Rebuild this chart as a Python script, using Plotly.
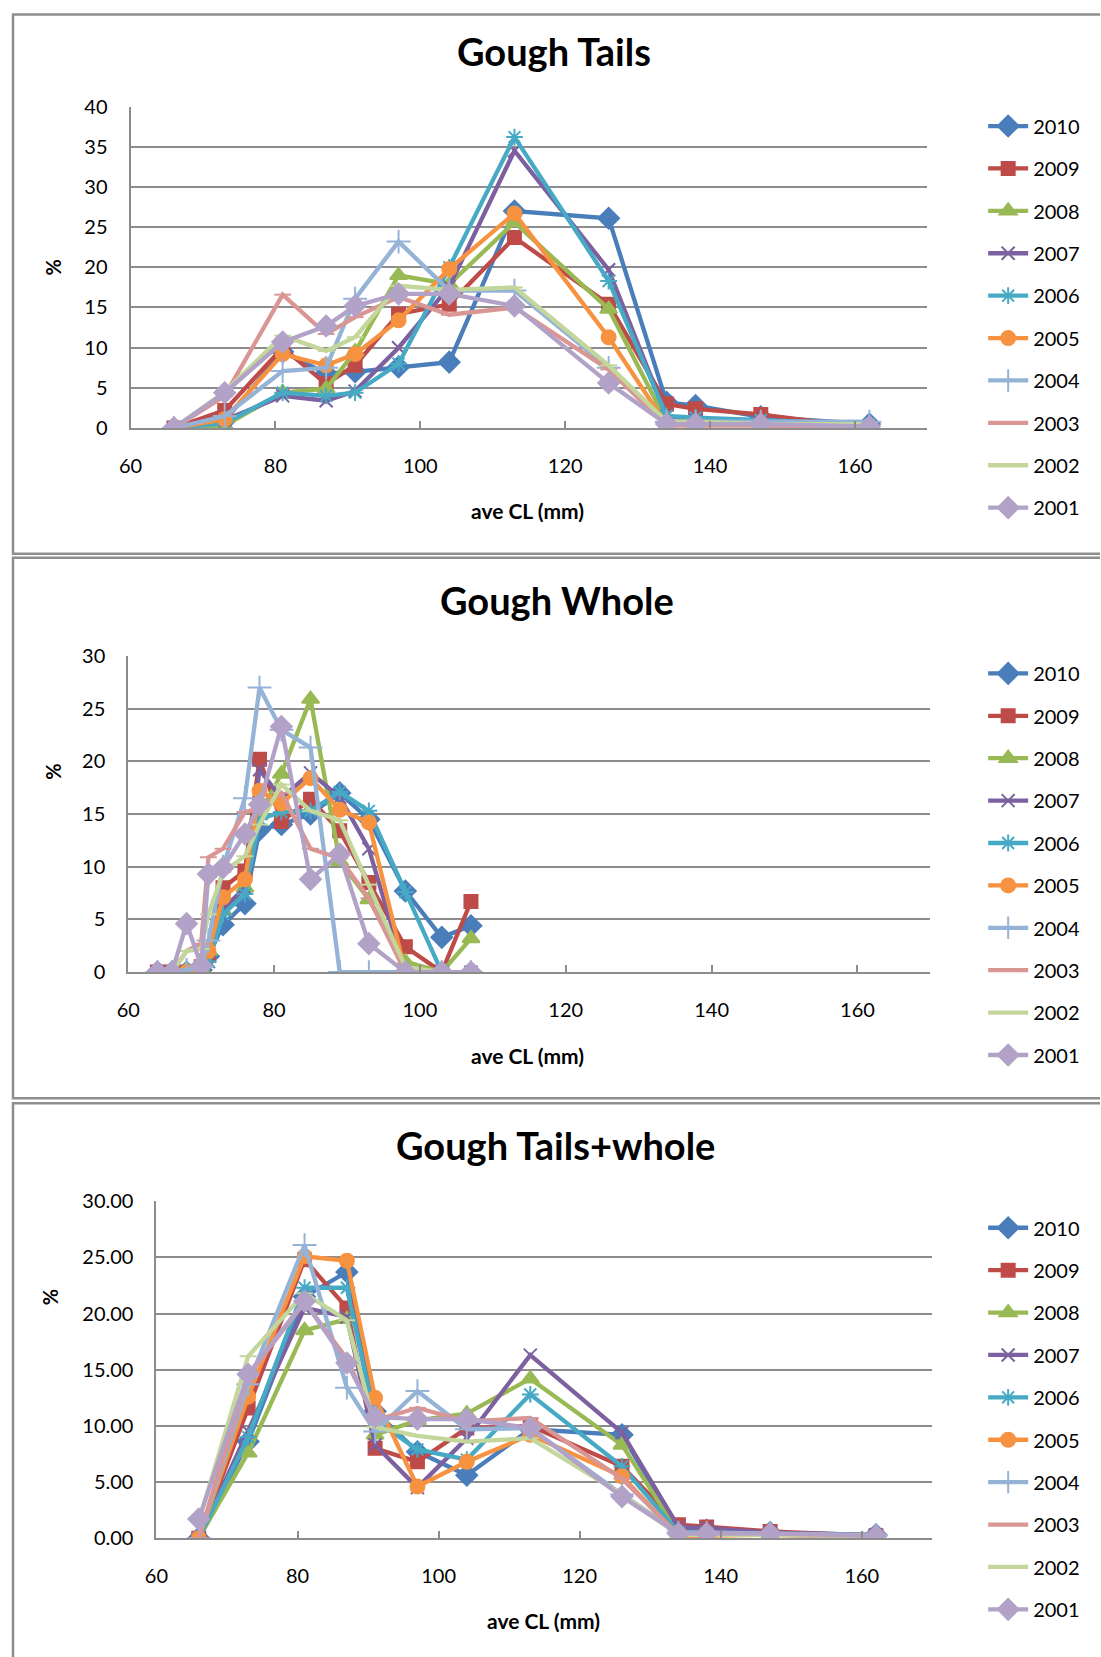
import plotly.graph_objects as go

# ---------------- data ----------------
YEARS = ["2010", "2009", "2008", "2007", "2006", "2005", "2004", "2003", "2002", "2001"]

# Gough Tails
X_TAILS = [66, 73, 81, 87, 91, 97, 104, 113, 126, 134, 138, 147, 162]
tails_2010 = [0, 0.9, 9.5, 6.8, 7.0, 7.6, 8.2, 27.0, 26.1, 3.2, 2.8, 1.4, 0.5]
tails_2009 = [0, 2.2, 10.0, 5.5, 7.8, 14.2, 15.4, 23.7, 15.4, 3.0, 2.4, 1.7, 0.0]
tails_2008 = [0, 0.3, 4.4, 4.9, 9.5, 19.0, 17.9, 25.6, 14.8, 0.8, 0.6, 0.5, 0.5]
tails_2007 = [0, 1.0, 4.0, 3.4, 4.6, 10.0, 17.6, 34.5, 19.7, 1.5, 1.0, 0.8, 0.3]
tails_2006 = [0, 0.6, 4.4, 4.0, 4.4, 8.0, 20.0, 36.2, 18.3, 1.5, 1.3, 1.0, 0.5]
tails_2005 = [0, 1.1, 9.2, 7.8, 9.2, 13.4, 19.8, 26.7, 11.3, 0.4, 0.4, 0.5, 0.2]
tails_2004 = [0, 1.5, 7.1, 7.5, 16.1, 23.2, 17.1, 17.1, 7.5, 0.8, 0.8, 0.8, 0.8]
tails_2003 = [0, 4.0, 16.6, 11.7, 13.8, 16.3, 14.1, 15.0, 7.3, 0.3, 0.3, 0.3, 0.0]
tails_2002 = [0, 4.5, 11.5, 9.6, 11.3, 17.7, 17.2, 17.5, 7.8, 0.8, 0.8, 0.5, 0.5]
tails_2001 = [0, 4.4, 10.7, 12.7, 15.2, 16.7, 16.7, 15.2, 5.6, 0.5, 0.5, 0.5, 0.2]

# Gough Whole
X_WHOLE = [64, 66, 68, 70, 71, 73, 76, 78, 81, 85, 89, 93, 98, 103, 107]
whole_2010 = [0, 0, 0, 0.2, 1.5, 4.5, 6.5, 13.5, 14.0, 15.0, 17.0, 14.5, 7.7, 3.3, 4.4]
whole_2009 = [0, 0, 0, 0.5, 1.6, 8.0, 9.6, 20.2, 14.3, 16.4, 13.4, 8.5, 2.4, 0, 6.7]
whole_2008 = [0, 0, 0.2, 0.3, 2.0, 5.8, 8.0, 15.0, 18.8, 25.9, 10.5, 6.9, 1.0, 0, 3.2]
whole_2007 = [0, 0, 0, 0.3, 1.0, 6.0, 8.0, 19.2, 16.5, 18.9, 16.6, 11.7, 0, 0, 0]
whole_2006 = [0, 0, 0, 0.3, 1.0, 5.5, 7.4, 14.5, 15.2, 15.3, 17.1, 15.3, 7.6, 0, 0]
whole_2005 = [0, 0, 0, 0.5, 2.0, 7.1, 8.8, 17.2, 16.0, 18.4, 15.4, 14.2, 0, 0, 0]
whole_2004 = [0, 0, 0.2, 0.5, 3.0, 10.0, 16.5, 27.0, 23.0, 21.3, 0, 0, 0, 0, 0]
whole_2003 = [0, 0, 2.0, 2.7, 10.9, 11.7, 15.2, 15.5, 17.0, 11.7, 10.8, 7.0, 0, 0, 0]
whole_2002 = [0, 0, 2.0, 2.2, 5.5, 9.5, 11.0, 14.0, 17.8, 15.3, 14.4, 8.3, 0.5, 0, 0]
whole_2001 = [0, 0, 4.6, 0.6, 9.3, 9.9, 13.1, 15.9, 23.3, 8.8, 11.2, 2.7, 0, 0, 0]

# Gough Tails+whole
X_COMB = [66, 73, 81, 87, 91, 97, 104, 113, 126, 134, 138, 147, 162]
comb_2010 = [0, 8.6, 21.5, 23.7, 11.3, 7.7, 5.6, 9.7, 9.2, 0.8, 0.7, 0.5, 0.3]
comb_2009 = [0, 11.6, 24.8, 20.5, 8.0, 6.8, 9.8, 10.0, 6.4, 1.2, 1.0, 0.6, 0.2]
comb_2008 = [0, 7.6, 18.5, 19.5, 9.2, 10.5, 11.1, 14.2, 8.3, 0.5, 0.5, 0.4, 0.2]
comb_2007 = [0, 9.5, 20.5, 19.7, 8.3, 4.5, 8.9, 16.3, 9.4, 1.0, 0.9, 0.5, 0.3]
comb_2006 = [0, 9.0, 22.3, 22.3, 10.5, 7.9, 7.0, 12.8, 6.4, 0.5, 0.5, 0.4, 0.2]
comb_2005 = [0, 12.6, 25.1, 24.7, 12.5, 4.6, 6.8, 9.2, 5.5, 0.2, 0.2, 0.3, 0.1]
comb_2004 = [0, 13.7, 26.1, 13.4, 9.5, 13.1, 9.7, 9.8, 3.9, 0.5, 0.5, 0.4, 0.3]
comb_2003 = [0, 14.5, 21.0, 16.0, 10.5, 11.6, 10.4, 10.7, 5.3, 0.3, 0.3, 0.3, 0.1]
comb_2002 = [1.5, 16.2, 21.8, 19.4, 9.9, 9.1, 8.6, 8.9, 3.9, 0.3, 0.3, 0.3, 0.2]
comb_2001 = [1.7, 14.6, 21.1, 15.6, 10.8, 10.6, 10.6, 9.8, 3.7, 0.4, 0.4, 0.4, 0.2]

X_TICKS = [60, 80, 100, 120, 140, 160]
TITLES = ["Gough Tails", "Gough Whole", "Gough Tails+whole"]
X_TITLE = "ave CL (mm)"
Y_TITLE = "%"

TAILS = [tails_2010, tails_2009, tails_2008, tails_2007, tails_2006,
         tails_2005, tails_2004, tails_2003, tails_2002, tails_2001]
WHOLE = [whole_2010, whole_2009, whole_2008, whole_2007, whole_2006,
         whole_2005, whole_2004, whole_2003, whole_2002, whole_2001]
COMB = [comb_2010, comb_2009, comb_2008, comb_2007, comb_2006,
        comb_2005, comb_2004, comb_2003, comb_2002, comb_2001]

# ---------------- style ----------------
# empirical page placement: screen_px = K * figure_px + B
KX, BX = 0.993, 10.0
KY, BY = 0.985, 12.5
W, H = 1100, 1670
FONT = "Lato, Carlito, Calibri, sans-serif"
COLORS = ["#4A7EBB", "#BE4B48", "#98B954", "#7D60A0", "#46AAC5",
          "#F69240", "#95B3D7", "#D99694", "#C3D69B", "#B3A2C7"]
SYMBOLS = ["diamond", "square", "triangle-up", "x-thin-open", "asterisk-open",
           "circle", "cross-thin-open", "line-ew-open", "line-ew-open", "diamond"]
SIZES = [16, 13, 15, 13, 14, 14, 17, 12, 12, 16]
GRID = "#8C8C8C"


def px_x(x):
    return ((x - BX) / KX) / W


def px_y(y):
    return 1 - ((y - BY) / KY) / H


# plot areas in screen pixels: (left, right, top, bottom)
AREAS = [(129, 929, 106, 427.3), (126.7, 932, 655, 971), (155, 934, 1200, 1536.7)]
Y_RANGES = [(0, 40), (0, 30), (0, 30)]
Y_FMT = ["d", "d", ".2f"]
XS = [X_TAILS, X_WHOLE, X_COMB]
DATA = [TAILS, WHOLE, COMB]
LEGEND_TOP = [106, 653, 1207]
TITLE_POS = [(554, 50), (557, 599), (556, 1144)]
XT_POS = [(528, 510), (528, 1054), (544, 1619)]
YT_POS = [(51, 267), (51, 771), (48, 1296)]
BOXES = [(11, 14, 1125, 553), (11, 557, 1125, 1097), (11, 1102, 1125, 1700)]

fig = go.Figure()
layout = dict(
    width=W, height=H,
    margin=dict(l=0, r=0, t=0, b=0),
    paper_bgcolor="white", plot_bgcolor="white",
    font=dict(family=FONT, color="black"),
    shapes=[], annotations=[],
)

for c in range(3):
    sfx = "" if c == 0 else str(c + 1)
    leg = "legend" if c == 0 else "legend" + str(c + 1)
    for i, yr in enumerate(YEARS):
        col = COLORS[i]
        fig.add_trace(go.Scatter(
            x=XS[c], y=DATA[c][i], name=yr, mode="lines+markers",
            xaxis="x" + sfx, yaxis="y" + sfx, legend=leg,
            legendgroup=f"g{c}_{i}",
            line=dict(color=col, width=4.3),
            marker=dict(symbol=SYMBOLS[i], size=SIZES[i], color=col,
                        line=dict(color=col, width=2)),
            hoverinfo="skip",
        ))
    l, r, t, b = AREAS[c]
    layout["xaxis" + sfx] = dict(
        domain=[px_x(l), px_x(r)], anchor="y" + sfx, range=[60, 170],
        tickmode="array", tickvals=X_TICKS, ticks="inside", ticklen=7,
        tickcolor=GRID, tickwidth=1.5, showgrid=False, zeroline=False,
        showline=True, linecolor=GRID, linewidth=2,
        tickfont=dict(size=20, family=FONT), ticklabelstandoff=19,
    )
    layout["yaxis" + sfx] = dict(
        domain=[px_y(b), px_y(t)], anchor="x" + sfx, range=list(Y_RANGES[c]),
        dtick=5, tick0=0, tickformat=Y_FMT[c], showgrid=True, gridcolor=GRID,
        gridwidth=1.8, zeroline=False, showline=True, linecolor=GRID,
        linewidth=2, ticks="", tickfont=dict(size=20, family=FONT),
        ticklabelstandoff=17,
    )
    layout[leg] = dict(
        x=px_x(985), xanchor="left", y=px_y(LEGEND_TOP[c]), yanchor="top",
        traceorder="grouped", tracegroupgap=13.4,
        font=dict(size=20, family=FONT), bgcolor="rgba(0,0,0,0)",
        itemwidth=40,
    )
    tx, ty = TITLE_POS[c]
    layout["annotations"].append(dict(
        x=px_x(tx), y=px_y(ty), xref="paper", yref="paper", text=f"<b>{TITLES[c]}</b>",
        showarrow=False, font=dict(size=38, family=FONT), xanchor="center", yanchor="middle"))
    ax_, ay_ = XT_POS[c]
    layout["annotations"].append(dict(
        x=px_x(ax_), y=px_y(ay_), xref="paper", yref="paper", text=f"<b>{X_TITLE}</b>",
        showarrow=False, font=dict(size=21, family=FONT), xanchor="center", yanchor="middle"))
    yx, yy = YT_POS[c]
    layout["annotations"].append(dict(
        x=px_x(yx), y=px_y(yy), xref="paper", yref="paper", text=f"<b>{Y_TITLE}</b>",
        showarrow=False, textangle=-90, font=dict(size=20, family=FONT),
        xanchor="center", yanchor="middle"))
    x0, y0, x1, y1 = BOXES[c]
    layout["shapes"].append(dict(
        type="rect", xref="paper", yref="paper", x0=px_x(x0), x1=px_x(x1),
        y0=px_y(y0), y1=px_y(y1), line=dict(color="#8E8E8E", width=2.5),
        layer="below"))

fig.update_layout(**layout)
fig.write_html("out.html")
